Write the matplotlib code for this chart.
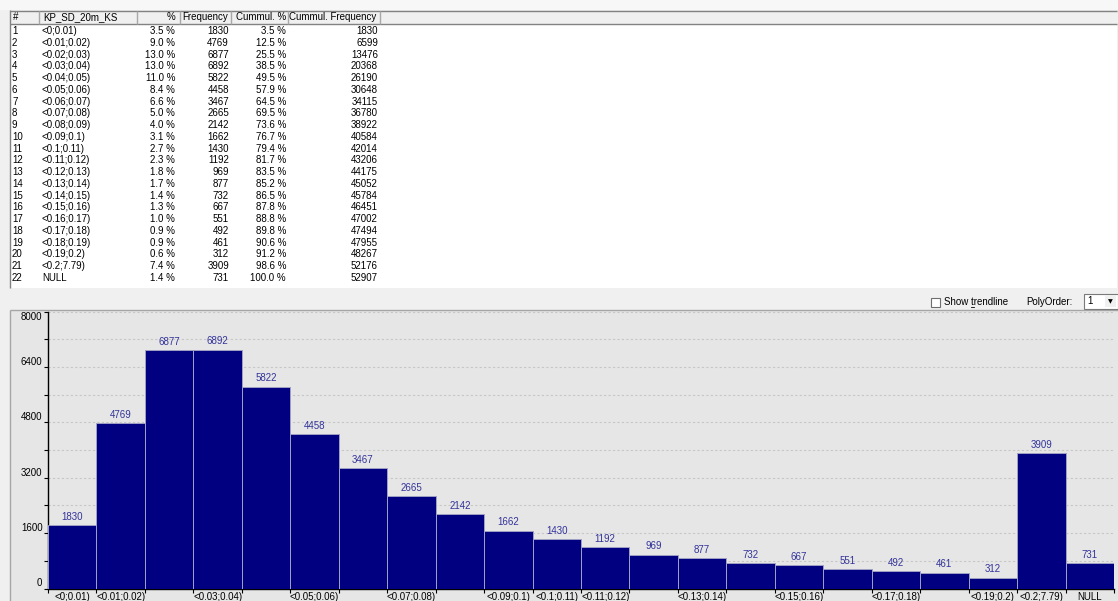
import matplotlib
matplotlib.use("Agg")
import matplotlib.pyplot as plt
from matplotlib.patches import Rectangle
from matplotlib.ticker import MultipleLocator, FixedLocator

plt.rcParams["font.family"] = ["Liberation Sans", "DejaVu Sans"]

# ---- data -------------------------------------------------------------
columns = ["#", "KP_SD_20m_KS", "%", "Frequency", "Cummul. %", "Cummul. Frequency"]
categories = ["<0;0.01)", "<0.01;0.02)", "<0.02;0.03)", "<0.03;0.04)", "<0.04;0.05)",
              "<0.05;0.06)", "<0.06;0.07)", "<0.07;0.08)", "<0.08;0.09)", "<0.09;0.1)",
              "<0.1;0.11)", "<0.11;0.12)", "<0.12;0.13)", "<0.13;0.14)", "<0.14;0.15)",
              "<0.15;0.16)", "<0.16;0.17)", "<0.17;0.18)", "<0.18;0.19)", "<0.19;0.2)",
              "<0.2;7.79)", "NULL"]
percent = [3.5, 9.0, 13.0, 13.0, 11.0, 8.4, 6.6, 5.0, 4.0, 3.1, 2.7,
           2.3, 1.8, 1.7, 1.4, 1.3, 1.0, 0.9, 0.9, 0.6, 7.4, 1.4]
frequency = [1830, 4769, 6877, 6892, 5822, 4458, 3467, 2665, 2142, 1662, 1430,
             1192, 969, 877, 732, 667, 551, 492, 461, 312, 3909, 731]
cumul_percent = [3.5, 12.5, 25.5, 38.5, 49.5, 57.9, 64.5, 69.5, 73.6, 76.7, 79.4,
                 81.7, 83.5, 85.2, 86.5, 87.8, 88.8, 89.8, 90.6, 91.2, 98.6, 100.0]
cumul_frequency = [1830, 6599, 13476, 20368, 26190, 30648, 34115, 36780, 38922, 40584, 42014,
                   43206, 44175, 45052, 45784, 46451, 47002, 47494, 47955, 48267, 52176, 52907]
y_max = 8000
y_major = 1600
y_minor = 800

# ---- canvas in pixel units ---------------------------------------------
W, H = 1118, 601
fig = plt.figure(figsize=(W / 100, H / 100), dpi=100)
fig.patch.set_facecolor("#f0f0f0")

ui = fig.add_axes([0, 0, 1, 1])
ui.set_xlim(0, W)
ui.set_ylim(H, 0)
ui.axis("off")

FS = 7
BORDER = "#828282"


def box(x0, y0, x1, y1, fc, ec="none", lw=1.0, z=1):
    ui.add_patch(Rectangle((x0, y0), x1 - x0, y1 - y0, facecolor=fc,
                           edgecolor=ec, linewidth=lw, zorder=z))


def hline(x0, x1, y, color=BORDER, lw=1.0):
    ui.plot([x0, x1], [y, y], color=color, lw=lw, solid_capstyle="butt", zorder=3)


def vline(x, y0, y1, color=BORDER, lw=1.0):
    ui.plot([x, x], [y0, y1], color=color, lw=lw, solid_capstyle="butt", zorder=3)


# ---- frequency table ---------------------------------------------------
box(0, 0, W, 10, "#f7f7f7")
box(9.5, 10, 1117, 24, "#f0f0f0")
box(9.5, 24, 1117, 288, "white")
hline(9.5, 1117, 10.5)
hline(9.5, 1117, 24)
vline(9.5, 10, 288)
for sx in [38.5, 137, 179.5, 230.5, 287.5, 379.5]:
    vline(sx, 11, 23.5, color="#a8a8a8")

# (x anchor, horizontal alignment) for each column
col_pos = [(12, "left"), (42, "left"), (175, "right"), (229, "right"),
           (286, "right"), (378, "right")]
head_pos = [(13, "left"), (43, "left"), (175, "right"), (228, "right"),
            (286, "right"), (376, "right")]
for (x, ha), name in zip(head_pos, columns):
    ui.text(x, 17.5, name, ha=ha, va="center", fontsize=FS, zorder=4)

row_y0, row_dy = 31, 11.76
for i, cat in enumerate(categories):
    y = row_y0 + i * row_dy
    cells = [str(i + 1), cat, f"{percent[i]:.1f} %", str(frequency[i]),
             f"{cumul_percent[i]:.1f} %", str(cumul_frequency[i])]
    for (x, ha), s in zip(col_pos, cells):
        ui.text(x, y, s, ha=ha, va="center", fontsize=FS, zorder=4)

# ---- trendline controls ------------------------------------------------
box(930.5, 297.5, 939.5, 306.5, "white", ec="#6e6e6e", lw=0.8, z=4)
trend_label = ui.text(944, 302, "Show trendline", ha="left", va="center",
                      fontsize=FS, zorder=4)
ui.text(1026, 302, "PolyOrder:", ha="left", va="center", fontsize=FS, zorder=4)
box(1083.5, 293.5, 1118, 308.5, "white", ec="#7a7a7a", lw=0.8, z=4)
box(1104.5, 295, 1116, 307, "#f0f0f0", z=5)
ui.text(1087, 301.5, "1", ha="left", va="center", fontsize=FS, zorder=6)
ui.text(1110.5, 301.5, "\u25BC", ha="center", va="center", fontsize=4.5,
        family="DejaVu Sans", zorder=6)

# ---- chart panel --------------------------------------------------------
box(9.5, 309.5, 1118, 601, "#e6e6e6")
hline(9.5, 1118, 309.5, color="#a6a6a6")
vline(9.5, 309.5, 601, color="#a6a6a6")


def px_axes(x0, y0, x1, y1):
    return fig.add_axes([x0 / W, 1 - y1 / H, (x1 - x0) / W, (y1 - y0) / H])


ax = px_axes(48, 311.5, 1114, 588.5)
ax.set_facecolor("none")
pos = list(range(len(categories)))
ax.bar(pos, frequency, width=1.0, color="#000080", edgecolor="#a0a0c4",
       linewidth=0.7, zorder=3)
ax.set_xlim(-0.5, len(categories) - 0.5)
ax.set_ylim(0, y_max)

for x, v in zip(pos, frequency):
    ax.annotate(str(v), (x, v), xytext=(0, 2.5), textcoords="offset points",
                ha="center", va="bottom", fontsize=FS, color="#33339a", zorder=4)

ax.yaxis.set_major_locator(FixedLocator(list(range(0, y_max + 1, y_major))))
ax.yaxis.set_minor_locator(MultipleLocator(y_minor))
ax.grid(axis="y", which="both", linestyle=(0, (2, 2)), color="#c6c6c6",
        linewidth=0.8, zorder=0)
ax.set_axisbelow(True)

ax.xaxis.set_major_locator(FixedLocator(pos))
ax.set_xticklabels(categories)
ax.xaxis.set_minor_locator(FixedLocator([p - 0.5 for p in pos] + [pos[-1] + 0.5]))
ax.tick_params(axis="x", which="major", length=0, pad=2.2, labelsize=FS)
ax.tick_params(axis="x", which="minor", length=3, width=0.8, direction="out")
ax.tick_params(axis="y", which="both", length=3, width=0.8, direction="out",
               pad=1, labelsize=FS)

for side in ("top", "right"):
    ax.spines[side].set_visible(False)
for side in ("left", "bottom"):
    ax.spines[side].set_linewidth(1.0)
    ax.spines[side].set_color("black")

# y labels sit just above their tick; the topmost one hangs below the axis end
fig.canvas.draw()
for t in ax.yaxis.get_major_ticks():
    if t.get_loc() >= y_max:
        t.label1.set_verticalalignment("top")
    else:
        t.label1.set_verticalalignment("bottom")

renderer = fig.canvas.get_renderer()

# mnemonic underline under the "t" of "trendline"
inv = ui.transData.inverted()
x_start = trend_label.get_window_extent(renderer).x0
probe = ui.text(0, 0, "Show ", fontsize=FS)
w_pre = probe.get_window_extent(renderer).width
probe.set_text("Show t")
w_t = probe.get_window_extent(renderer).width
probe.remove()
ux0 = inv.transform((x_start + w_pre, 0))[0]
ux1 = inv.transform((x_start + w_t, 0))[0]
ui.plot([ux0, ux1], [306.8, 306.8], color="black", lw=0.6, zorder=4)

# category labels that would collide with the previous shown one are hidden
last_right = -1e9
for lab in ax.get_xticklabels():
    bb = lab.get_window_extent(renderer)
    if bb.x0 < last_right + 2:
        lab.set_visible(False)
    else:
        last_right = bb.x1

fig.savefig("out.png", dpi=100, facecolor=fig.get_facecolor())
